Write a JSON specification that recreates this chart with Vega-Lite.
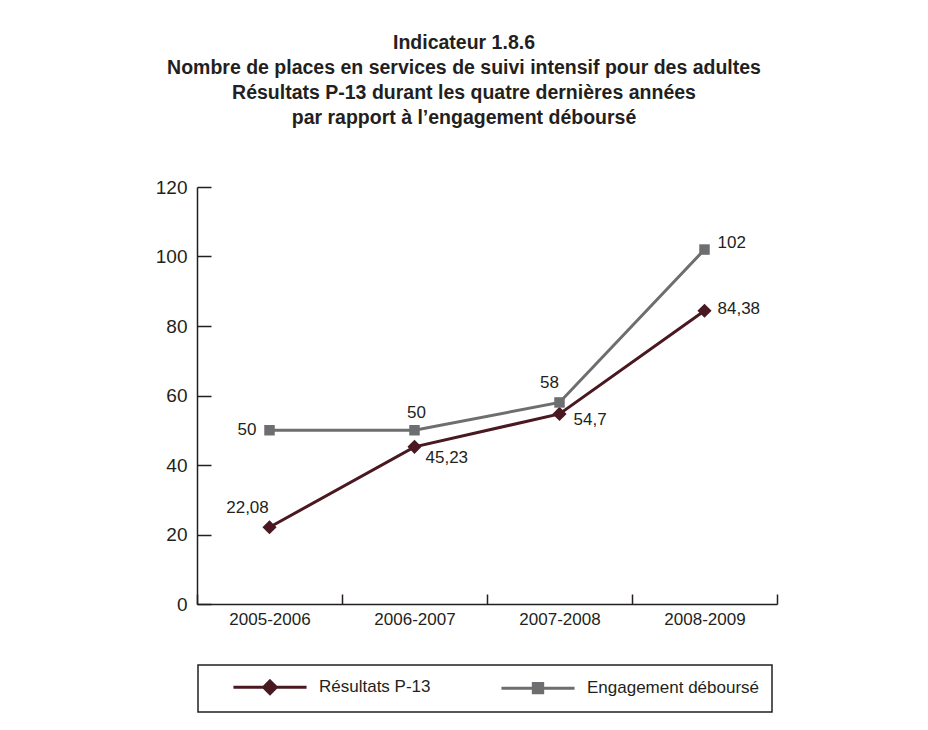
{
  "$schema": "https://vega.github.io/schema/vega-lite/v6.json",
  "width": 580,
  "height": 417,
  "autosize": {"type": "none"},
  "padding": {"left": 197, "top": 187, "right": 151, "bottom": 126},
  "background": "white",
  "config": {
    "view": {"stroke": null},
    "font": "Liberation Sans",
    "locale": {"number": {"decimal": ",", "thousands": " ", "grouping": [3], "currency": ["", " €"]}},
    "axis": {
      "domainColor": "#231f20",
      "domainWidth": 1.5,
      "tickColor": "#231f20",
      "tickWidth": 1.5,
      "labelColor": "#231f20",
      "grid": false,
      "title": null
    }
  },
  "title": {
    "text": [
      "Indicateur 1.8.6",
      "Nombre de places en services de suivi intensif pour des adultes",
      "Résultats P-13 durant les quatre dernières années",
      "par rapport à l’engagement déboursé"
    ],
    "font": "Liberation Sans",
    "fontSize": 19.5,
    "fontWeight": "bold",
    "color": "#231f20",
    "lineHeight": 25,
    "anchor": "middle",
    "frame": "group",
    "dx": -23,
    "offset": 50
  },
  "data": {
    "values": [
      {"period": "2005-2006", "series": "Résultats P-13", "value": 22.08},
      {"period": "2006-2007", "series": "Résultats P-13", "value": 45.23},
      {"period": "2007-2008", "series": "Résultats P-13", "value": 54.7},
      {"period": "2008-2009", "series": "Résultats P-13", "value": 84.38},
      {"period": "2005-2006", "series": "Engagement déboursé", "value": 50},
      {"period": "2006-2007", "series": "Engagement déboursé", "value": 50},
      {"period": "2007-2008", "series": "Engagement déboursé", "value": 58},
      {"period": "2008-2009", "series": "Engagement déboursé", "value": 102}
    ]
  },
  "encoding": {
    "x": {
      "field": "period",
      "type": "ordinal",
      "sort": null,
      "bandPosition": 0.5,
      "scale": {"type": "band", "paddingInner": 0, "paddingOuter": 0},
      "axis": {
        "tickBand": "extent",
        "tickSize": -10,
        "labelPadding": 17,
        "labelAngle": 0,
        "labelFontSize": 17
      }
    },
    "y": {
      "field": "value",
      "type": "quantitative",
      "scale": {"domain": [0, 120], "nice": false},
      "axis": {
        "values": [0, 20, 40, 60, 80, 100, 120],
        "tickSize": -14,
        "labelPadding": 24,
        "labelFontSize": 19
      }
    }
  },
  "layer": [
    {
      "mark": {"type": "line", "strokeWidth": 3},
      "encoding": {
        "color": {
          "field": "series",
          "type": "nominal",
          "scale": {"domain": ["Résultats P-13", "Engagement déboursé"], "range": ["#4a1820", "#6d6e70"]},
          "legend": {
            "title": null,
            "orient": "none",
            "legendX": 1,
            "legendY": 478,
            "direction": "horizontal",
            "strokeColor": "#231f20",
            "padding": 12,
            "symbolOffset": 50,
            "labelOffset": 39,
            "columnPadding": 47,
            "labelFontSize": 17,
            "labelLimit": 300,
            "labelColor": "#231f20",
            "symbolSize": 289,
            "symbolStrokeWidth": 3,
            "symbolType": "M-4.3,0H4.3",
            "encode": {
              "legend": {"update": {"strokeWidth": {"value": 1.5}}},
              "symbols": {
                "update": {
                  "shape": {"signal": "datum.value === 'Résultats P-13' ? 'M-4.3,0H4.3M0,-0.75L0.75,0L0,0.75L-0.75,0Z' : 'M-4.3,0H4.3M-0.55,-0.55H0.55V0.55H-0.55Z'"},
                  "fill": {"scale": "color", "field": "value"},
                  "stroke": {"scale": "color", "field": "value"},
                  "strokeWidth": {"value": 3}
                }
              }
            }
          }
        }
      }
    },
    {
      "transform": [{"filter": "datum.series === 'Résultats P-13'"}],
      "mark": {"type": "point", "shape": "diamond", "filled": true, "size": 200, "color": "#4a1820", "opacity": 1}
    },
    {
      "transform": [{"filter": "datum.series === 'Engagement déboursé'"}],
      "mark": {"type": "point", "shape": "square", "filled": true, "size": 110, "color": "#6d6e70", "opacity": 1}
    },
    {
      "transform": [{"filter": "datum.series === 'Engagement déboursé' && datum.period === '2005-2006'"}],
      "mark": {"type": "text", "align": "right", "baseline": "middle", "dx": -13, "dy": 0, "fontSize": 17, "color": "#231f20"},
      "encoding": {"text": {"field": "value", "type": "quantitative", "format": ".4~g"}}
    },
    {
      "transform": [{"filter": "datum.series === 'Résultats P-13' && datum.period === '2005-2006'"}],
      "mark": {"type": "text", "align": "center", "baseline": "middle", "dx": -22, "dy": -19, "fontSize": 17, "color": "#231f20"},
      "encoding": {"text": {"field": "value", "type": "quantitative", "format": ".4~g"}}
    },
    {
      "transform": [{"filter": "datum.series === 'Engagement déboursé' && datum.period === '2006-2007'"}],
      "mark": {"type": "text", "align": "center", "baseline": "middle", "dx": 2, "dy": -17, "fontSize": 17, "color": "#231f20"},
      "encoding": {"text": {"field": "value", "type": "quantitative", "format": ".4~g"}}
    },
    {
      "transform": [{"filter": "datum.series === 'Résultats P-13' && datum.period === '2006-2007'"}],
      "mark": {"type": "text", "align": "left", "baseline": "middle", "dx": 11, "dy": 11, "fontSize": 17, "color": "#231f20"},
      "encoding": {"text": {"field": "value", "type": "quantitative", "format": ".4~g"}}
    },
    {
      "transform": [{"filter": "datum.series === 'Engagement déboursé' && datum.period === '2007-2008'"}],
      "mark": {"type": "text", "align": "center", "baseline": "middle", "dx": -10, "dy": -19, "fontSize": 17, "color": "#231f20"},
      "encoding": {"text": {"field": "value", "type": "quantitative", "format": ".4~g"}}
    },
    {
      "transform": [{"filter": "datum.series === 'Résultats P-13' && datum.period === '2007-2008'"}],
      "mark": {"type": "text", "align": "left", "baseline": "middle", "dx": 14, "dy": 6, "fontSize": 17, "color": "#231f20"},
      "encoding": {"text": {"field": "value", "type": "quantitative", "format": ".4~g"}}
    },
    {
      "transform": [{"filter": "datum.series === 'Engagement déboursé' && datum.period === '2008-2009'"}],
      "mark": {"type": "text", "align": "left", "baseline": "middle", "dx": 13, "dy": -7, "fontSize": 17, "color": "#231f20"},
      "encoding": {"text": {"field": "value", "type": "quantitative", "format": ".4~g"}}
    },
    {
      "transform": [{"filter": "datum.series === 'Résultats P-13' && datum.period === '2008-2009'"}],
      "mark": {"type": "text", "align": "left", "baseline": "middle", "dx": 13, "dy": -2, "fontSize": 17, "color": "#231f20"},
      "encoding": {"text": {"field": "value", "type": "quantitative", "format": ".4~g"}}
    }
  ]
}
